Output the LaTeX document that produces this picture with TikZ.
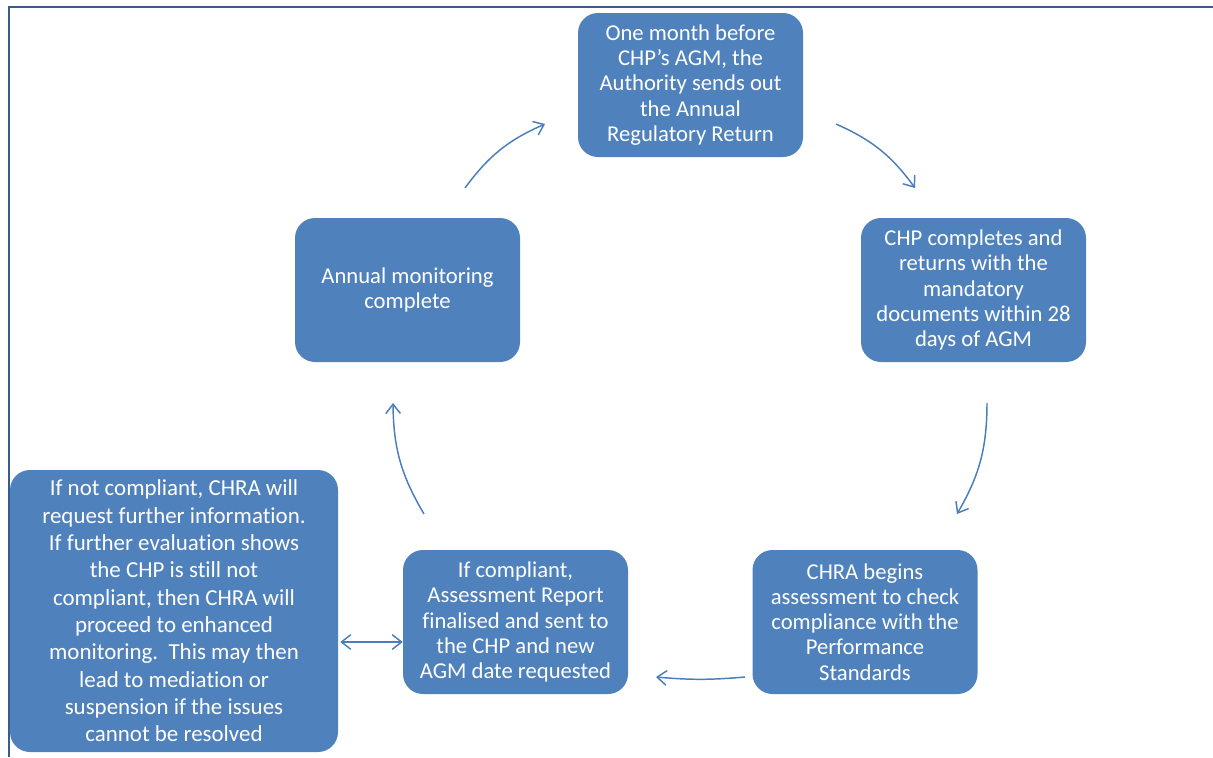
\documentclass[tikz,border=0pt]{standalone}
\usepackage{fontspec}
\setmainfont{Carlito}[Ligatures=NoCommon]
\usetikzlibrary{arrows.meta, calc}
\definecolor{boxblue}{HTML}{4F81BD}
\definecolor{linkblue}{HTML}{4A7EBB}
\definecolor{frameblue}{HTML}{385D8A}

\begin{document}
\begin{tikzpicture}[x=0.75pt, y=-0.75pt, >={Straight Barb[length=7pt, width=11pt]},
    stage/.style={fill=boxblue, rounded corners=15pt, text=white, align=center,
      minimum width=168.75pt, minimum height=108pt, inner sep=0pt,
      font=\fontsize{17}{18.9}\selectfont},
    cyc/.style={->, linkblue, line width=1.1pt}]
  \useasboundingbox (0,0) rectangle (1213,757);
  \draw[frameblue, line width=1.5pt] (9,757) -- (9,7) -- (1213,7);

  \node[stage] (ret) at (690.5,85) {One month before\\CHP’s AGM, the\\Authority sends out\\the Annual\\Regulatory Return};
  \node[stage] (docs) at (973.5,290) {CHP completes and\\returns with the\\mandatory\\documents within 28\\days of AGM};
  \node[stage] (check) at (865,622) {CHRA begins\\assessment to check\\compliance with the\\Performance\\Standards};
  \node[stage] (report) at (515.5,622) {If compliant,\\Assessment Report\\finalised and sent to\\the CHP and new\\AGM date requested};
  \node[stage] (done) at (407.5,290) {Annual monitoring\\complete};
  \node[stage, minimum width=246pt, minimum height=211.5pt,
    font=\fontsize{17.2}{20.5}\selectfont] (enh) at (174,611)
    {If not compliant, CHRA will\\request further information.\\If further evaluation shows\\the CHP is still not\\compliant, then CHRA will\\proceed to enhanced\\monitoring.\ \ This may then\\lead to mediation or\\suspension if the issues\\cannot be resolved};

  % ends of the cycle arrows
  \coordinate (ret-out) at (836,124);
  \coordinate (docs-in) at (915,188);
  \coordinate (docs-out) at (987,403);
  \coordinate (check-in) at (957,514);
  \coordinate (check-out) at (745,677);
  \coordinate (report-in) at (656,677);
  \coordinate (report-out) at (424,514);
  \coordinate (done-in) at (393,403);
  \coordinate (done-out) at (465,188);
  \coordinate (ret-in) at (545,124);

  \draw[cyc] (ret-out) to[bend left=15] (docs-in);
  \draw[cyc] (docs-out) to[bend left=15] (check-in);
  \draw[cyc] (check-out) to[bend left=5] (report-in);
  \draw[cyc] (report-out) to[bend left=15] (done-in);
  \draw[cyc] (done-out) to[bend left=15] (ret-in);
  \draw[cyc, <->] ($(enh.east)+(2,31)$) -- ($(report.west)+(0,20)$);
\end{tikzpicture}
\end{document}
